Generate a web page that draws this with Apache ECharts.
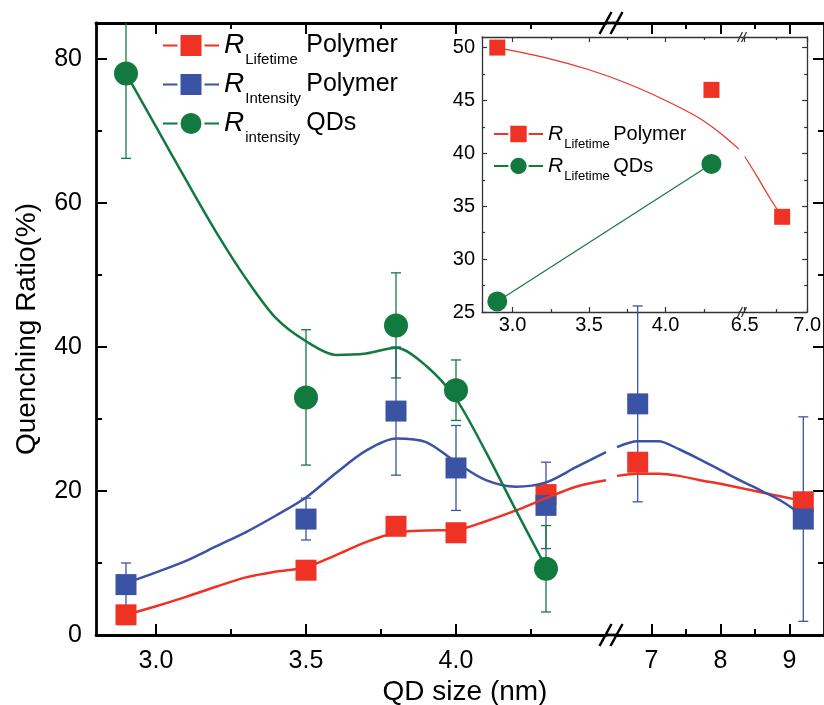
<!DOCTYPE html>
<html>
<head>
<meta charset="utf-8">
<script src="https://cdn.jsdelivr.net/npm/echarts@6/dist/echarts.min.js"></script>
<style>
  html, body { margin: 0; padding: 0; background: #fff; }
  #chart { width: 824px; height: 705px; }
</style>
</head>
<body>
<div id="chart"></div>
<script>
// ---- main plot data (QD size in nm, quenching ratio in %) ----
var sizeX = [2.9, 3.5, 3.8, 4.0, 4.3, 6.8, 9.2];
var lifetimePolymer = [2.8, 9.0, 15.1, 14.2, 19.5, 24.0, 18.5];
var intensityPolymer = [7.0, 16.1, 31.1, 23.2, 18.0, 32.1, 16.1];
var intensityPolymerErr = [3.0, 2.9, 8.9, 5.9, 6.0, 13.6, 14.2];
var qdX = [2.9, 3.5, 3.8, 4.0, 4.3];
var intensityQDs = [78.0, 33.0, 43.0, 34.0, 9.2];
var intensityQDsErr = [11.8, 9.4, 7.3, 4.2, 6.0];

// fitted curves
var lifeFitX = [2.9, 3.0, 3.1, 3.2, 3.3, 3.4, 3.5, 3.6, 3.7, 3.8, 3.9, 4.0, 4.1, 4.2, 4.3, 4.4, 4.5,
                6.5, 6.8, 7.1, 7.4, 7.7, 8.0, 8.3, 8.6, 8.9, 9.2];
var lifeFitY = [2.8, 4.0, 5.3, 6.7, 8.0, 8.8, 9.4, 11.1, 12.9, 14.2, 14.5, 14.6, 15.8, 17.3, 19.0, 20.6, 21.5,
                22.1, 22.4, 22.4, 22.1, 21.5, 21.0, 20.4, 19.8, 19.2, 18.6];
var intFitX = [2.9, 3.0, 3.1, 3.2, 3.3, 3.4, 3.5, 3.6, 3.7, 3.8, 3.9, 4.0, 4.1, 4.2, 4.3, 4.4, 4.5,
               6.5, 6.8, 7.1, 7.4, 7.7, 8.0, 8.3, 8.6, 8.9, 9.2];
var intFitY = [7.2, 8.7, 10.3, 12.3, 14.3, 16.6, 19.1, 22.5, 25.6, 27.3, 26.8, 24.0, 21.5, 20.6, 21.2, 23.3, 25.4,
               26.1, 26.9, 26.9, 25.8, 24.4, 22.9, 21.4, 20.0, 18.5, 16.5];
var qdFitX = [2.9, 3.0, 3.1, 3.2, 3.3, 3.4, 3.5, 3.6, 3.7, 3.8, 3.9, 4.0, 4.1, 4.2, 4.3];
var qdFitY = [78, 70.6, 63.2, 56.0, 49.5, 44.0, 40.8, 38.9, 39.1, 39.9, 37.4, 32.8, 25.4, 17.3, 9.4];

// ---- inset data ----
var insetX = [2.9, 4.3, 6.8];
var insetLifetimePolymer = [50, 46, 34];
var insetQdX = [2.9, 4.3];
var insetLifetimeQDs = [26, 39];
var insetFitX = [2.9, 3.2, 3.5, 3.75, 4.0, 4.2, 4.35, 4.48, 6.5, 6.6, 6.7, 6.8];
var insetFitY = [50, 49.1, 47.9, 46.6, 45.0, 43.5, 42.0, 40.4, 39.7, 37.8, 35.8, 34.0];

// ---- ticks ----
var mainXLeftTicks = [3.0, 3.5, 4.0];
var mainXLeftLabels = ['3.0', '3.5', '4.0'];
var mainXLeftMinor = [3.25, 3.75, 4.25];
var mainXRightTicks = [7, 8, 9];
var mainXRightLabels = ['7', '8', '9'];
var mainXRightMinor = [7.5, 8.5];
var mainYTicks = [0, 20, 40, 60, 80];
var mainYLabels = ['0', '20', '40', '60', '80'];
var mainYMinor = [10, 30, 50, 70];
var insetXLeftTicks = [3.0, 3.5, 4.0];
var insetXLeftLabels = ['3.0', '3.5', '4.0'];
var insetXLeftMinor = [3.25, 3.75, 4.25];
var insetXRightTicks = [6.5, 7.0];
var insetXRightLabels = ['6.5', '7.0'];
var insetXRightMinor = [6.75];
var insetYTicks = [25, 30, 35, 40, 45, 50];
var insetYLabels = ['25', '30', '35', '40', '45', '50'];
var insetYMinor = [27.5, 32.5, 37.5, 42.5, 47.5];

var BREAK = 5; // x values below this go to the left segment
var RED = '#EE3224', BLUE = '#3A53A4', GREEN = '#137A3F';
var FONT = '"Liberation Sans", Arial, Helvetica, sans-serif';

function pts(xs, ys) { return xs.map(function (x, i) { return [x, ys[i]]; }); }
function leftOf(p) { return p.filter(function (d) { return d[0] < BREAK; }); }
function rightOf(p) { return p.filter(function (d) { return d[0] >= BREAK; }); }

function axis(o) {
    return {
        type: 'value', gridIndex: o.grid, position: o.pos, min: o.min, max: o.max,
        splitLine: {show: false},
        axisLine: {show: !!o.line, onZero: false, lineStyle: {color: o.color, width: o.lineW}},
        axisTick: {show: true, inside: true, length: o.len, customValues: o.values,
            lineStyle: {color: o.color, width: o.tickW}},
        axisLabel: o.labels ? {
            show: true, customValues: o.values, fontFamily: FONT, fontSize: o.fontSize,
            color: '#000', margin: o.margin,
            formatter: function (v) { return o.labels[o.values.indexOf(v)]; }
        } : {show: false}
    };
}

// one major + minor axis pair at bottom and top of a grid
function xAxesFor(grid, min, max, major, labels, minor, st) {
    return [
        axis({grid: grid, pos: 'bottom', min: min, max: max, line: true, values: major, labels: labels,
            len: st.len, tickW: st.tickW, lineW: st.lineW, color: st.color, fontSize: st.fontSize, margin: st.margin}),
        axis({grid: grid, pos: 'bottom', min: min, max: max, values: minor, len: st.minorLen, tickW: st.tickW, color: st.color}),
        axis({grid: grid, pos: 'top', min: min, max: max, line: true, values: major,
            len: st.len, tickW: st.tickW, lineW: st.lineW, color: st.color}),
        axis({grid: grid, pos: 'top', min: min, max: max, values: minor, len: st.minorLen, tickW: st.tickW, color: st.color})
    ];
}
function yAxesFor(grid, pos, min, max, major, labels, minor, st) {
    return [
        axis({grid: grid, pos: pos, min: min, max: max, line: true, values: major, labels: labels,
            len: st.len, tickW: st.tickW, lineW: st.lineW, color: st.color, fontSize: st.fontSize, margin: st.yMargin}),
        axis({grid: grid, pos: pos, min: min, max: max, values: minor, len: st.minorLen, tickW: st.tickW, color: st.color})
    ];
}

var mainStyle = {len: 11, minorLen: 6, tickW: 2, lineW: 2.8, color: '#000', fontSize: 25, margin: 14, yMargin: 14};
var insetStyle = {len: 5, minorLen: 3, tickW: 1.2, lineW: 1.3, color: '#333', fontSize: 20, margin: 3, yMargin: 7};

var xAxis = [].concat(
    xAxesFor(0, 2.8, 4.5, mainXLeftTicks, mainXLeftLabels, mainXLeftMinor, mainStyle),      // 0-3
    xAxesFor(1, 6.5, 9.5, mainXRightTicks, mainXRightLabels, mainXRightMinor, mainStyle),   // 4-7
    xAxesFor(2, 2.8, 4.48, insetXLeftTicks, insetXLeftLabels, insetXLeftMinor, insetStyle), // 8-11
    xAxesFor(3, 6.47, 7.0, insetXRightTicks, insetXRightLabels, insetXRightMinor, insetStyle) // 12-15
);
var yAxis = [].concat(
    yAxesFor(0, 'left', 0, 85, mainYTicks, mainYLabels, mainYMinor, mainStyle),        // 0-1
    yAxesFor(1, 'right', 0, 85, mainYTicks, null, mainYMinor, mainStyle),              // 2-3
    yAxesFor(2, 'left', 25, 51, insetYTicks, insetYLabels, insetYMinor, insetStyle),   // 4-5
    yAxesFor(3, 'right', 25, 51, insetYTicks, null, insetYMinor, insetStyle)           // 6-7
);
// cartesian (xAxisIndex, yAxisIndex) for each panel
var MAIN_L = [0, 0], MAIN_R = [4, 2], INSET_L = [8, 4], INSET_R = [12, 6];

function fitLine(name, data, cs, color, width, symbol) {
    return {
        name: name, type: 'line', xAxisIndex: cs[0], yAxisIndex: cs[1], data: data,
        smooth: 0.3, symbol: symbol, showSymbol: false, silent: true,
        lineStyle: {color: color, width: width}, itemStyle: {color: color}
    };
}
function markers(data, cs, color, symbol, size) {
    return {
        type: 'scatter', xAxisIndex: cs[0], yAxisIndex: cs[1], data: data, silent: true,
        symbol: symbol, symbolSize: size, itemStyle: {color: color, opacity: 1}
    };
}
function errorBars(xs, ys, errs, cs, color, cap, side) {
    var data = xs.map(function (x, i) { return [x, ys[i] - errs[i], ys[i] + errs[i]]; });
    data = side === 'left' ? leftOf(data) : rightOf(data);
    return {
        type: 'custom', xAxisIndex: cs[0], yAxisIndex: cs[1], data: data, silent: true,
        encode: {x: 0, y: [1, 2]},
        renderItem: function (params, api) {
            var x = api.value(0);
            var lo = api.coord([x, api.value(1)]);
            var hi = api.coord([x, api.value(2)]);
            var top = Math.max(hi[1], params.coordSys.y);
            var st = {stroke: color, lineWidth: 1.3};
            var kids = [
                {type: 'line', shape: {x1: lo[0], y1: lo[1], x2: lo[0], y2: top}, style: st},
                {type: 'line', shape: {x1: lo[0] - cap, y1: lo[1], x2: lo[0] + cap, y2: lo[1]}, style: st}
            ];
            if (hi[1] >= params.coordSys.y) {
                kids.push({type: 'line', shape: {x1: hi[0] - cap, y1: hi[1], x2: hi[0] + cap, y2: hi[1]}, style: st});
            }
            return {type: 'group', children: kids};
        }
    };
}

var N_LP = 'R Lifetime Polymer', N_IP = 'R Intensity Polymer', N_IQ = 'R intensity QDs';
var N_ILP = 'inset R Lifetime Polymer', N_ILQ = 'inset R Lifetime QDs';
var legendText = {};
legendText[N_LP] = '{r|R}{s|Lifetime}{t|Polymer}';
legendText[N_IP] = '{r|R}{s|Intensity}{t|Polymer}';
legendText[N_IQ] = '{r|R}{s|intensity}{t|QDs}';
legendText[N_ILP] = '{r|R}{s|Lifetime}{t|Polymer}';
legendText[N_ILQ] = '{r|R}{s|Lifetime}{t|QDs}';

var mainRich = {
    r: {fontFamily: FONT, fontStyle: 'italic', fontSize: 28, color: '#000'},
    s: {fontFamily: FONT, fontSize: 15, color: '#000', padding: [28, 0, 0, 1], width: 61},
    t: {fontFamily: FONT, fontSize: 25, color: '#000'}
};
var insetRich = {
    r: {fontFamily: FONT, fontStyle: 'italic', fontSize: 21, color: '#000'},
    s: {fontFamily: FONT, fontSize: 13, color: '#000', padding: [20, 0, 0, 1], width: 49},
    t: {fontFamily: FONT, fontSize: 20, color: '#000'}
};
function legendFor(name, left, top, w, h, bw, rich) {
    return {
        data: [name], left: left, top: top, padding: 0, itemWidth: w, itemHeight: h,
        selectedMode: false, itemStyle: {borderColor: '#fff', borderWidth: bw},
        formatter: function (n) { return legendText[n]; },
        textStyle: {rich: rich}
    };
}

var lifeFit = pts(lifeFitX, lifeFitY), intFit = pts(intFitX, intFitY);
var insetFit = pts(insetFitX, insetFitY);
var lifePts = pts(sizeX, lifetimePolymer), intPts = pts(sizeX, intensityPolymer);
var insetPolyPts = pts(insetX, insetLifetimePolymer);

var series = [
    fitLine(N_LP, leftOf(lifeFit), MAIN_L, RED, 2.5, 'rect'),
    fitLine(N_LP, rightOf(lifeFit), MAIN_R, RED, 2.5, 'rect'),
    fitLine(N_IP, leftOf(intFit), MAIN_L, BLUE, 2.5, 'rect'),
    fitLine(N_IP, rightOf(intFit), MAIN_R, BLUE, 2.5, 'rect'),
    fitLine(N_IQ, pts(qdFitX, qdFitY), MAIN_L, GREEN, 2.5, 'circle'),
    errorBars(sizeX, intensityPolymer, intensityPolymerErr, MAIN_L, BLUE, 5, 'left'),
    errorBars(sizeX, intensityPolymer, intensityPolymerErr, MAIN_R, BLUE, 5, 'right'),
    errorBars(qdX, intensityQDs, intensityQDsErr, MAIN_L, GREEN, 5, 'left'),
    markers(leftOf(lifePts), MAIN_L, RED, 'rect', 21),
    markers(rightOf(lifePts), MAIN_R, RED, 'rect', 21),
    markers(leftOf(intPts), MAIN_L, BLUE, 'rect', 21),
    markers(rightOf(intPts), MAIN_R, BLUE, 'rect', 21),
    markers(pts(qdX, intensityQDs), MAIN_L, GREEN, 'circle', 24),
    // inset
    fitLine(N_ILP, leftOf(insetFit), INSET_L, RED, 1.2, 'rect'),
    fitLine(N_ILP, rightOf(insetFit), INSET_R, RED, 1.2, 'rect'),
    {
        name: N_ILQ, type: 'line', xAxisIndex: INSET_L[0], yAxisIndex: INSET_L[1],
        data: pts(insetQdX, insetLifetimeQDs), symbol: 'circle', symbolSize: 20, silent: true,
        lineStyle: {color: GREEN, width: 1.2}, itemStyle: {color: GREEN}
    },
    markers(leftOf(insetPolyPts), INSET_L, RED, 'rect', 16),
    markers(rightOf(insetPolyPts), INSET_R, RED, 'rect', 16)
];

// axis break marks "//" and the axis line bridging the break
function breakMarks(cx, cy, dx, dy, gap, color, w) {
    var out = [];
    [-gap / 2, gap / 2].forEach(function (o) {
        out.push({type: 'line', shape: {x1: cx + o - dx, y1: cy + dy, x2: cx + o + dx, y2: cy - dy},
            style: {stroke: color, lineWidth: w}, z: 10});
    });
    return out;
}
var graphics = [].concat(
    [{type: 'line', shape: {x1: 606, y1: 635, x2: 617, y2: 635}, style: {stroke: '#000', lineWidth: 2.8}},
     {type: 'line', shape: {x1: 606, y1: 23, x2: 617, y2: 23}, style: {stroke: '#000', lineWidth: 2.8}},
     {type: 'line', shape: {x1: 739, y1: 312, x2: 741, y2: 312}, style: {stroke: '#333', lineWidth: 1.3}},
     {type: 'line', shape: {x1: 739, y1: 37, x2: 741, y2: 37}, style: {stroke: '#333', lineWidth: 1.3}}],
    breakMarks(611, 635, 6, 11, 11, '#000', 2.5),
    breakMarks(611, 23, 6, 11, 11, '#000', 2.5),
    breakMarks(742, 312, 2.5, 5, 4, '#333', 1.2),
    breakMarks(742, 37, 2.5, 5, 4, '#333', 1.2),
    [{type: 'text', x: 465, y: 692, style: {text: 'QD size (nm)', font: '28px ' + FONT, fill: '#000',
        align: 'center', verticalAlign: 'middle'}},
     {type: 'text', x: 27, y: 329, rotation: Math.PI / 2, style: {text: 'Quenching Ratio(%)', font: '28px ' + FONT,
        fill: '#000', align: 'center', verticalAlign: 'middle'}}]
);

var option = {
    animation: false,
    backgroundColor: '#fff',
    grid: [
        {left: 96, top: 23, width: 510, height: 612},
        {left: 617, top: 23, width: 216, height: 612},
        {left: 482, top: 37, width: 257, height: 275},
        {left: 741, top: 37, width: 67, height: 275}
    ],
    xAxis: xAxis,
    yAxis: yAxis,
    legend: [
        legendFor(N_LP, 162, 31.5, 56, 30, 3, mainRich),
        legendFor(N_IP, 162, 70.5, 56, 30, 3, mainRich),
        legendFor(N_IQ, 162, 109.5, 56, 30, 3, mainRich),
        legendFor(N_ILP, 493, 123.5, 49, 23, 2, insetRich),
        legendFor(N_ILQ, 493, 155.5, 49, 23, 2, insetRich)
    ],
    series: series,
    graphic: graphics
};

var myChart = echarts.init(document.getElementById('chart'));
myChart.setOption(option);
</script>
</body>
</html>
